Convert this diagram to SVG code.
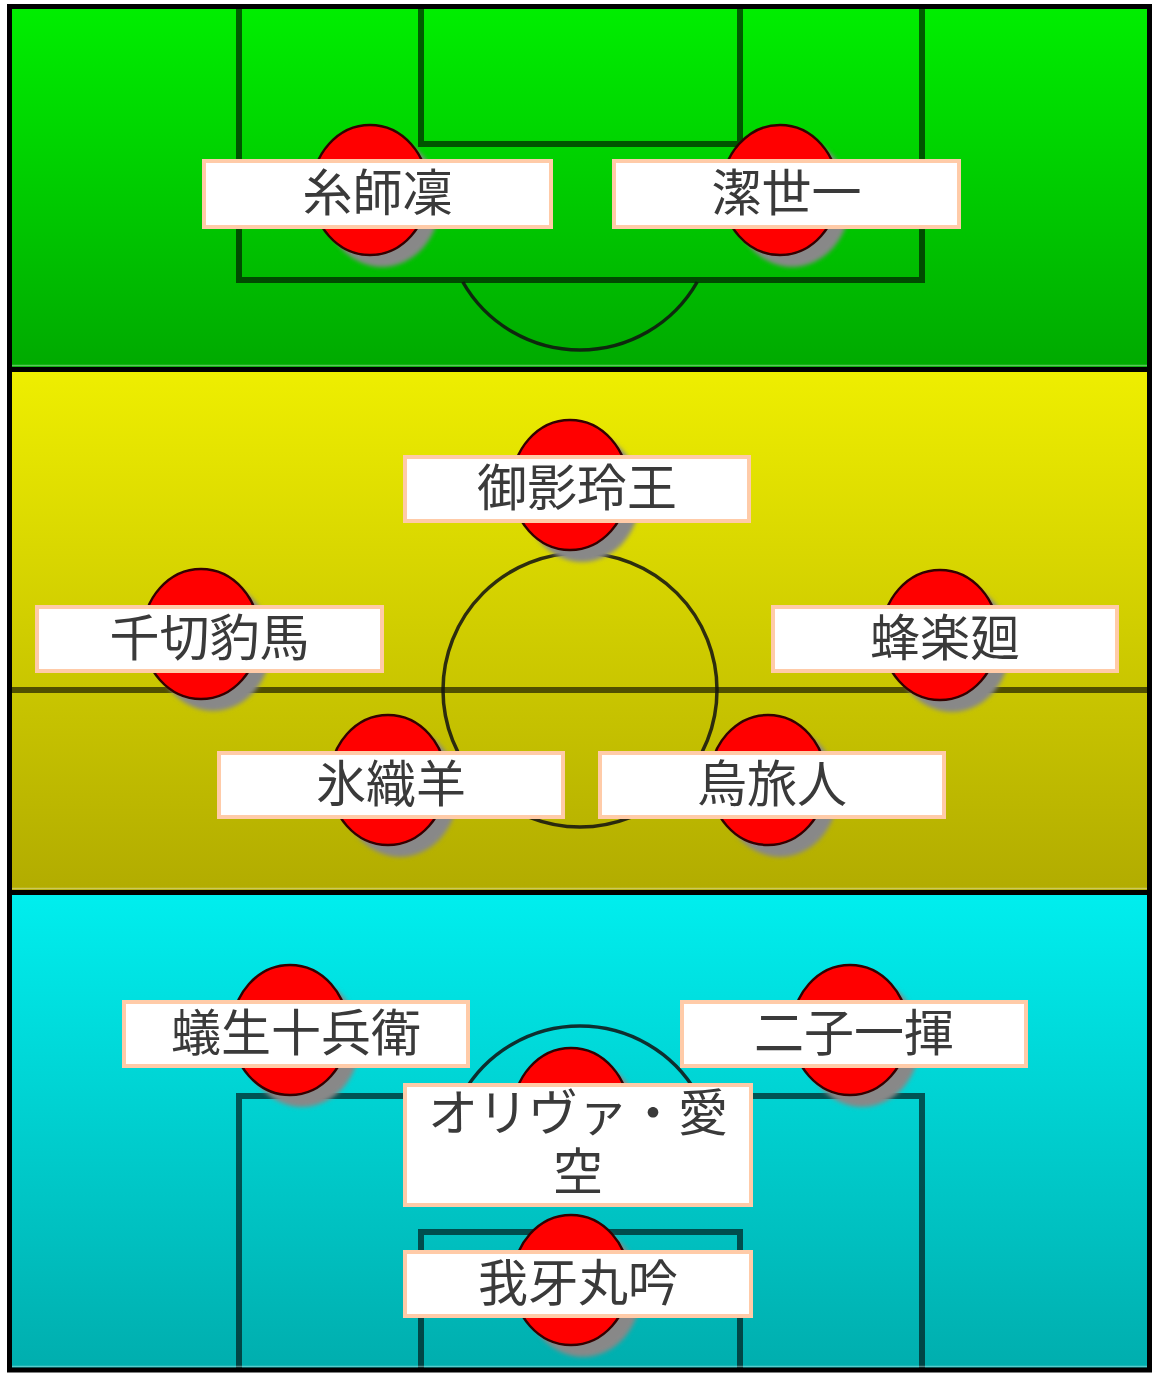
<svg xmlns="http://www.w3.org/2000/svg" width="1170" height="1383" viewBox="0 0 1170 1383">
<defs>
<linearGradient id="gGreen" x1="0" y1="0" x2="0" y2="1"><stop offset="0" stop-color="#00ee00"/><stop offset="1" stop-color="#00aa00"/></linearGradient>
<linearGradient id="gYellow" x1="0" y1="0" x2="0" y2="1"><stop offset="0" stop-color="#eeee00"/><stop offset="1" stop-color="#b2ac00"/></linearGradient>
<linearGradient id="gCyan" x1="0" y1="0" x2="0" y2="1"><stop offset="0" stop-color="#00eeee"/><stop offset="1" stop-color="#00aeae"/></linearGradient>
<filter id="blur" x="-20%" y="-20%" width="140%" height="140%"><feGaussianBlur stdDeviation="2"/></filter>
<style>
.line{fill:none;stroke:#000;stroke-opacity:0.6;stroke-width:6}
.arc{fill:none;stroke:#111;stroke-opacity:0.85;stroke-width:3.5}
.shadow{fill:#888;filter:url(#blur)}
.ball{fill:#ff0000;stroke:#300;stroke-width:2.5}
.box{fill:#fff;stroke:#ffcba8;stroke-width:4}
.lbl{font-family:"Noto Sans CJK JP","Noto Sans CJK SC",sans-serif;font-size:50px;fill:#3a3a3a;text-anchor:middle}
.hl{stroke:#fff;stroke-opacity:0.35;stroke-width:1.5}
</style>
</defs>
<rect x="0" y="0" width="1170" height="1383" fill="#fff"/>
<g id="field">
<rect x="12" y="9" width="1135" height="358" fill="url(#gGreen)"/>
<rect x="12" y="372" width="1135" height="518" fill="url(#gYellow)"/>
<rect x="12" y="895" width="1135" height="473" fill="url(#gCyan)"/>
<path class="line" d="M239,9 V280 H922 V9"/>
<path class="line" d="M421,9 V144 H740 V9"/>
<path class="arc" d="M462.8,282 A135,135 0 0 0 697.2,282"/>
<path class="line" d="M12,690 H1147"/>
<circle class="arc" cx="580" cy="690" r="137"/>
<path class="line" d="M239,1368 V1096 H922 V1368"/>
<path class="line" d="M421,1368 V1232 H740 V1368"/>
<path class="arc" d="M462.8,1094 A135,135 0 0 1 697.2,1094"/>
<line class="hl" x1="12" y1="365.5" x2="1147" y2="365.5"/>
<line class="hl" x1="12" y1="888.5" x2="1147" y2="888.5"/>
<line class="hl" x1="12" y1="1366.5" x2="1147" y2="1366.5"/>
<rect x="9.5" y="6.5" width="1140" height="1363.5" fill="none" stroke="#000" stroke-width="5"/>
<line x1="9" y1="369.5" x2="1150" y2="369.5" stroke="#000" stroke-width="5"/>
<line x1="9" y1="892.5" x2="1150" y2="892.5" stroke="#000" stroke-width="5"/>
</g>
<g id="connectors"></g>
<g id="p-rin">
<ellipse class="shadow" cx="382" cy="202" rx="58" ry="65"/>
<ellipse class="ball" cx="370" cy="190" rx="58" ry="65"/>
<rect class="box" x="204" y="161" width="347" height="66"/>
<text class="lbl" x="377.5" y="211">糸師凜</text>
</g>
<g id="p-isagi">
<ellipse class="shadow" cx="792" cy="202" rx="58" ry="65"/>
<ellipse class="ball" cx="780" cy="190" rx="58" ry="65"/>
<rect class="box" x="614" y="161" width="345" height="66"/>
<text class="lbl" x="786.5" y="211">潔世一</text>
</g>
<g id="p-reo">
<ellipse class="shadow" cx="582" cy="497" rx="58" ry="65"/>
<ellipse class="ball" cx="570" cy="485" rx="58" ry="65"/>
<rect class="box" x="405" y="457" width="344" height="64"/>
<text class="lbl" x="577" y="506">御影玲王</text>
</g>
<g id="p-chigiri">
<ellipse class="shadow" cx="213" cy="646" rx="58" ry="65"/>
<ellipse class="ball" cx="201" cy="634" rx="58" ry="65"/>
<rect class="box" x="37" y="607" width="345" height="64"/>
<text class="lbl" x="209.5" y="656">千切豹馬</text>
</g>
<g id="p-bachira">
<ellipse class="shadow" cx="952" cy="647" rx="58" ry="65"/>
<ellipse class="ball" cx="940" cy="635" rx="58" ry="65"/>
<rect class="box" x="773" y="607" width="344" height="64"/>
<text class="lbl" x="945" y="656">蜂楽廻</text>
</g>
<g id="p-hiori">
<ellipse class="shadow" cx="400" cy="792" rx="58" ry="65"/>
<ellipse class="ball" cx="388" cy="780" rx="58" ry="65"/>
<rect class="box" x="219" y="753" width="344" height="64"/>
<text class="lbl" x="391" y="802">氷織羊</text>
</g>
<g id="p-karasu">
<ellipse class="shadow" cx="780" cy="792" rx="58" ry="65"/>
<ellipse class="ball" cx="768" cy="780" rx="58" ry="65"/>
<rect class="box" x="600" y="753" width="344" height="64"/>
<text class="lbl" x="772" y="802">烏旅人</text>
</g>
<g id="p-aryu">
<ellipse class="shadow" cx="302" cy="1042" rx="58" ry="65"/>
<ellipse class="ball" cx="290" cy="1030" rx="58" ry="65"/>
<rect class="box" x="124" y="1002" width="344" height="64"/>
<text class="lbl" x="296" y="1051">蟻生十兵衛</text>
</g>
<g id="p-nico">
<ellipse class="shadow" cx="862" cy="1042" rx="58" ry="65"/>
<ellipse class="ball" cx="850" cy="1030" rx="58" ry="65"/>
<rect class="box" x="682" y="1002" width="344" height="64"/>
<text class="lbl" x="854" y="1051">二子一揮</text>
</g>
<g id="p-aiku">
<ellipse class="shadow" cx="583" cy="1125" rx="58" ry="65"/>
<ellipse class="ball" cx="571" cy="1113" rx="58" ry="65"/>
<rect class="box" x="405" y="1085" width="346" height="120"/>
<text class="lbl" x="578" y="1131">オリヴァ・愛</text>
<text class="lbl" x="578" y="1190">空</text>
</g>
<g id="p-gagamaru">
<ellipse class="shadow" cx="583" cy="1292" rx="58" ry="65"/>
<ellipse class="ball" cx="571" cy="1280" rx="58" ry="65"/>
<rect class="box" x="405" y="1252" width="346" height="64"/>
<text class="lbl" x="578" y="1301">我牙丸吟</text>
</g>
</svg>
